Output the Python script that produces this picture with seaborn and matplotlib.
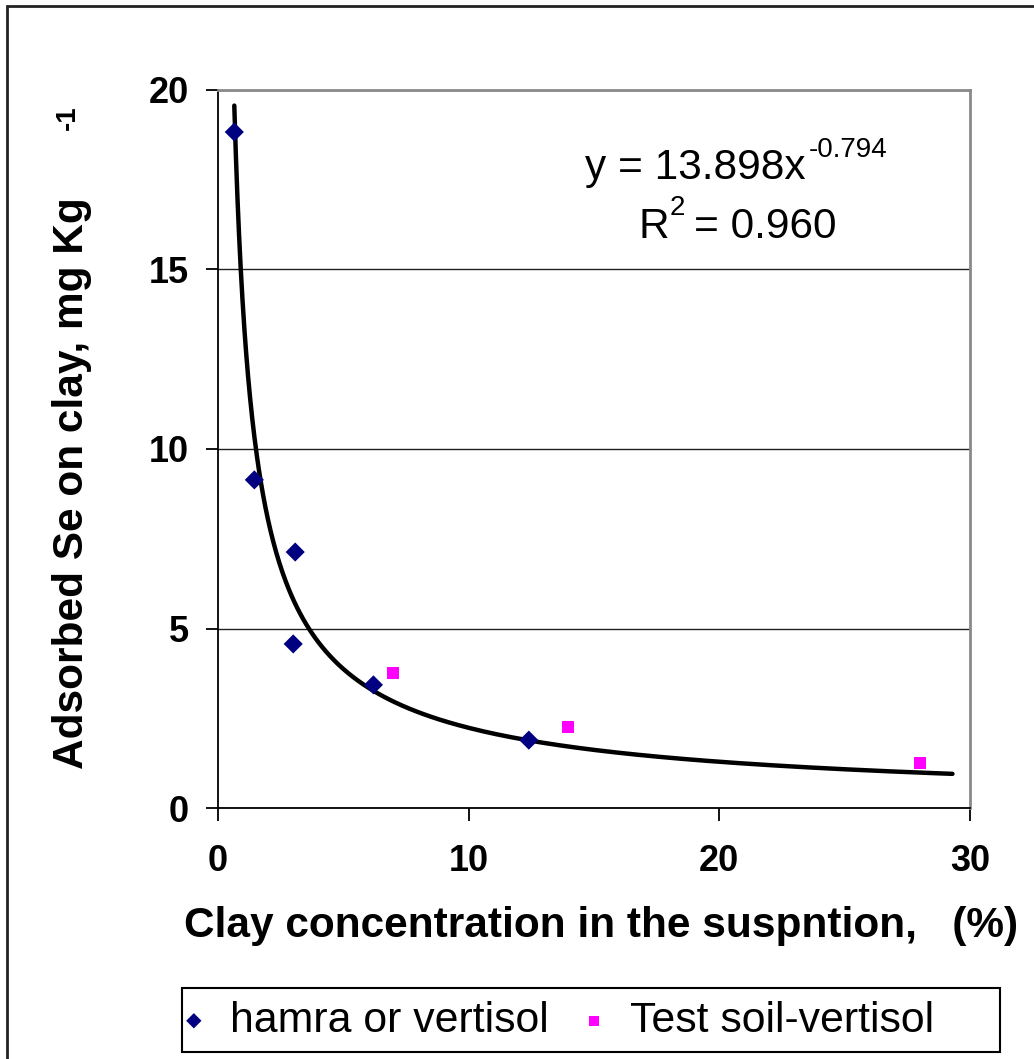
import numpy as np
import pandas as pd
import matplotlib
matplotlib.use("Agg")
import matplotlib.pyplot as plt
from matplotlib.patches import Rectangle
import seaborn as sns

# ---- data ----
hamra_x = [0.65, 1.45, 3.08, 3.0, 6.2, 12.4]
hamra_y = [18.83, 9.14, 7.13, 4.57, 3.43, 1.89]
test_x = [7.0, 13.95, 28.0]
test_y = [3.76, 2.26, 1.25]
fit_a = 13.898
fit_b = -0.794
fit_xmin, fit_xmax = 0.65, 29.3
x_ticks = [0, 10, 20, 30]
y_ticks = [0, 5, 10, 15, 20]
series_names = ["hamra or vertisol", "Test soil-vertisol"]

W, H = 1034, 1059
sns.set_style("white")
plt.rcParams['font.family'] = ['Liberation Sans', 'DejaVu Sans']
plt.rcParams['text.color'] = 'black'
plt.rcParams['xtick.color'] = 'black'
plt.rcParams['ytick.color'] = 'black'
plt.rcParams['axes.labelcolor'] = 'black'

fig = plt.figure(figsize=(W / 100, H / 100), dpi=100)

def fx(px):
    return px / W

def fy(py):
    return 1 - py / H

ax = fig.add_axes([fx(218), fy(808), (970 - 218) / W, (808 - 90) / H])

xfit = np.geomspace(fit_xmin, fit_xmax, 300)
yfit = fit_a * xfit ** fit_b
sns.lineplot(x=xfit, y=yfit, color='black', lw=3.2, ax=ax, sort=False,
             estimator=None, zorder=3)
sns.scatterplot(x=hamra_x, y=hamra_y, marker='D', color='#000080', s=95,
                edgecolor='none', ax=ax, zorder=4, label=series_names[0])
sns.scatterplot(x=test_x, y=test_y, marker='s', color='#FF00FF', s=75,
                edgecolor='none', ax=ax, zorder=4, label=series_names[1])
handles, labels = ax.get_legend_handles_labels()
if ax.get_legend() is not None:
    ax.get_legend().remove()

ax.set_xlim(0, 30)
ax.set_ylim(0, 20)
ax.set_xticks(x_ticks)
ax.set_yticks(y_ticks)
ax.set_xticklabels([str(t) for t in x_ticks])
ax.set_yticklabels([str(t) for t in y_ticks])
ax.set_axisbelow(True)
ax.yaxis.grid(True, color='#202020', lw=1.0)
ax.xaxis.grid(False)
for s in ['left', 'bottom']:
    ax.spines[s].set_color('black')
    ax.spines[s].set_linewidth(1.3)
for s in ['top', 'right']:
    ax.spines[s].set_color('#8a8a8a')
    ax.spines[s].set_linewidth(2)
ax.tick_params(axis='both', direction='out', length=9, width=1.3, color='black',
               labelcolor='black', labelsize=26, bottom=True, left=True,
               top=False, right=False)
ax.tick_params(axis='x', pad=17)
ax.tick_params(axis='y', pad=12)
for lab in ax.get_xticklabels() + ax.get_yticklabels():
    lab.set_fontweight('bold')
ax.set_xlabel('')
ax.set_ylabel('')

# axis titles
fig.text(fx(601), fy(937), 'Clay concentration in the suspntion,   (%)',
         ha='center', va='baseline', fontsize=30.5, fontweight='bold')
fig.text(fx(72), fy(483), 'Adsorbed Se on clay, mg Kg', rotation=90,
         ha='center', va='center', fontsize=30.5, fontweight='bold')
fig.text(fx(68), fy(118), '-1', rotation=90, ha='center', va='center',
         fontsize=20, fontweight='bold')

# equation
fig.text(fx(585), fy(179), 'y = 13.898x', ha='left', va='baseline', fontsize=30.5)
fig.text(fx(809), fy(157), '-0.794', ha='left', va='baseline', fontsize=20)
fig.text(fx(638), fy(238), 'R', ha='left', va='baseline', fontsize=30.5)
fig.text(fx(670), fy(215), '2', ha='left', va='baseline', fontsize=20)
fig.text(fx(694), fy(238), '= 0.960', ha='left', va='baseline', fontsize=30.5)

# legend
leg = fig.legend(handles, labels, loc='center left',
                 bbox_to_anchor=(fx(181), fy(1021)), ncol=2, frameon=False,
                 fontsize=30.8, handlelength=0.6, handletextpad=0.55,
                 columnspacing=0.75, borderpad=0, borderaxespad=0,
                 markerscale=0.8)
fig.patches.append(Rectangle((fx(182), fy(1052)), (1000 - 182) / W,
                             (1052 - 988) / H, transform=fig.transFigure,
                             fill=False, edgecolor='black', lw=1.5))
# outer frame
fig.patches.append(Rectangle((fx(7), -0.1), 1.5, fy(6) + 0.1,
                             transform=fig.transFigure, fill=False,
                             edgecolor='#222222', lw=2))

fig.savefig('out.png', dpi=100)
